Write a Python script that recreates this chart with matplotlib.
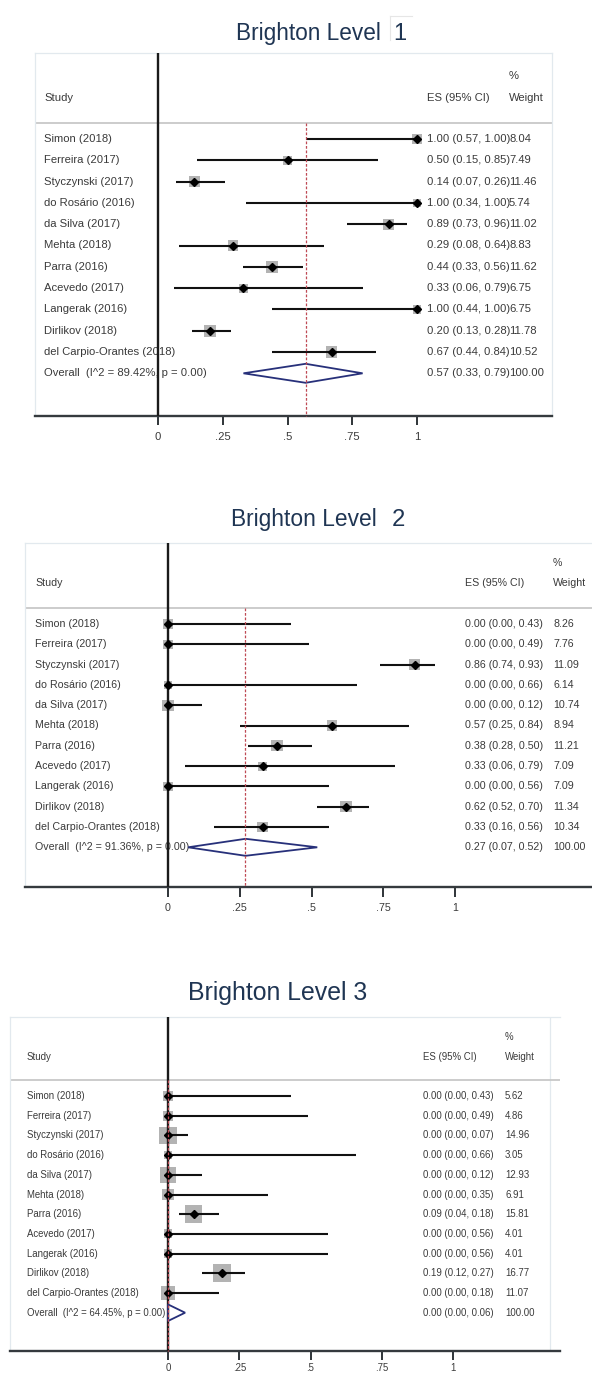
import matplotlib
matplotlib.use('Agg')
import matplotlib.pyplot as plt
from matplotlib.patches import Polygon
from matplotlib.lines import Line2D
import numpy as np

plt.rcParams['font.family'] = ['Liberation Sans', 'DejaVu Sans']

# ---------------- data ----------------
studies = ["Simon (2018)", "Ferreira (2017)", "Styczynski (2017)", "do Rosário (2016)",
           "da Silva (2017)", "Mehta (2018)", "Parra (2016)", "Acevedo (2017)",
           "Langerak (2016)", "Dirlikov (2018)", "del Carpio-Orantes (2018)"]

titles = ["Brighton Level", "Brighton Level", "Brighton Level 3"]
title_nums = ["1", "2", ""]

l1_es = [1.00, 0.50, 0.14, 1.00, 0.89, 0.29, 0.44, 0.33, 1.00, 0.20, 0.67]
l1_lo = [0.57, 0.15, 0.07, 0.34, 0.73, 0.08, 0.33, 0.06, 0.44, 0.13, 0.44]
l1_hi = [1.00, 0.85, 0.26, 1.00, 0.96, 0.64, 0.56, 0.79, 1.00, 0.28, 0.84]
l1_wt = [8.04, 7.49, 11.46, 5.74, 11.02, 8.83, 11.62, 6.75, 6.75, 11.78, 10.52]

l2_es = [0.00, 0.00, 0.86, 0.00, 0.00, 0.57, 0.38, 0.33, 0.00, 0.62, 0.33]
l2_lo = [0.00, 0.00, 0.74, 0.00, 0.00, 0.25, 0.28, 0.06, 0.00, 0.52, 0.16]
l2_hi = [0.43, 0.49, 0.93, 0.66, 0.12, 0.84, 0.50, 0.79, 0.56, 0.70, 0.56]
l2_wt = [8.26, 7.76, 11.09, 6.14, 10.74, 8.94, 11.21, 7.09, 7.09, 11.34, 10.34]

l3_es = [0.00, 0.00, 0.00, 0.00, 0.00, 0.00, 0.09, 0.00, 0.00, 0.19, 0.00]
l3_lo = [0.00, 0.00, 0.00, 0.00, 0.00, 0.00, 0.04, 0.00, 0.00, 0.12, 0.00]
l3_hi = [0.43, 0.49, 0.07, 0.66, 0.12, 0.35, 0.18, 0.56, 0.56, 0.27, 0.18]
l3_wt = [5.62, 4.86, 14.96, 3.05, 12.93, 6.91, 15.81, 4.01, 4.01, 16.77, 11.07]

overall_es = [0.57, 0.27, 0.00]
overall_lo = [0.33, 0.07, 0.00]
overall_hi = [0.79, 0.52, 0.06]
overall_wt = [100.00, 100.00, 100.00]
overall_i2 = [89.42, 91.36, 64.45]
overall_p = [0.00, 0.00, 0.00]

tick_vals = [0, 0.25, 0.5, 0.75, 1]
tick_labels = ['0', '.25', '.5', '.75', '1']

# ---------------- layout (pixels) ----------------
W, H = 592, 1375
layouts = [
    dict(L=35, R=552, T=53, B=416, x0=158, x1=417, r0=139, d=21.3, sep=123,
         hdr_y=98, pct_y=76, study_x=44.5, es_x=427, w_x=509,
         title_x=236, title_base=40, title_fs=16.3, num_x=393, fs=8.1, k=3.4,
         dia_h=9.5, tick_len=9, tick_pad=5.0, box_right=None),
    dict(L=24.5, R=605, T=543, B=887, x0=168, x1=455, r0=624, d=20.3, sep=608,
         hdr_y=583, pct_y=563, study_x=35, es_x=465, w_x=553,
         title_x=231, title_base=526, title_fs=16.4, num_x=392, fs=7.7, k=3.4,
         dia_h=8.5, tick_len=10, tick_pad=4.6, box_right=None),
    dict(L=9.5, R=560, T=1017, B=1351, x0=168, x1=453, r0=1096, d=19.7, sep=1080,
         hdr_y=1057, pct_y=1037, study_x=27, es_x=423, w_x=505,
         title_x=188, title_base=1000, title_fs=17.9, num_x=None, fs=6.9, k=4.4,
         dia_h=8.3, tick_len=9, tick_pad=2.2, box_right=550),
]

TXT = '#3a3a3a'
TITLE_C = '#1f3553'
FAINT = '#e2e9ee'

fig = plt.figure(figsize=(W / 100, H / 100), dpi=100)

panels = [
    (l1_es, l1_lo, l1_hi, l1_wt),
    (l2_es, l2_lo, l2_hi, l2_wt),
    (l3_es, l3_lo, l3_hi, l3_wt),
]

for p, (es, lo, hi, wt) in enumerate(panels):
    lay = layouts[p]
    sc = lay['x1'] - lay['x0']
    px2x = lambda px, lay=lay, sc=sc: (px - lay['x0']) / sc
    py2y = lambda py, lay=lay: (py - lay['r0']) / lay['d']

    ax = fig.add_axes([lay['L'] / W, 1 - lay['B'] / H,
                       (lay['R'] - lay['L']) / W, (lay['B'] - lay['T']) / H])
    ax.set_xlim(px2x(lay['L']), px2x(lay['R']))
    ax.set_ylim(py2y(lay['B']), py2y(lay['T']))
    ax.set_yticks([])
    ax.set_xticks(tick_vals)
    ax.set_xticklabels(tick_labels)
    ax.tick_params(axis='x', length=lay['tick_len'] * 0.72, width=1.4,
                   color='#2f3438', pad=lay['tick_pad'], labelsize=lay['fs'],
                   labelcolor=TXT)
    for s in ['top', 'left', 'right']:
        ax.spines[s].set_color(FAINT)
        ax.spines[s].set_linewidth(0.9)
    if lay['box_right'] is not None:
        ax.spines['right'].set_visible(False)
        ax.axvline(px2x(lay['box_right']), color=FAINT, lw=0.9, zorder=0)
    ax.spines['bottom'].set_color('#353a3e')
    ax.spines['bottom'].set_linewidth(1.7)

    rows = np.arange(len(studies))
    n_ov = len(studies)
    bottom_y = py2y(lay['B'])
    sep_y = py2y(lay['sep'])

    # header separator
    ax.axhline(sep_y, color='#c8c8c8', lw=1.3, zorder=1)
    # null line
    ax.axvline(0, color='#1a1a1a', lw=1.7, zorder=3)

    # weight squares
    sizes = [(lay['k'] * np.sqrt(w) * 0.72) ** 2 for w in wt]
    ax.scatter(es, rows, s=sizes, marker='s', color='#b3b3b3', zorder=2,
               linewidths=0)
    # CI lines
    ax.hlines(rows, lo, hi, color='#111111', lw=1.5, zorder=4)
    # point estimates
    ax.plot(es, rows, linestyle='none', marker='D', markersize=4.4,
            color='#000000', zorder=5)

    # overall diamond
    h = lay['dia_h'] / lay['d']
    o_es, o_lo, o_hi = overall_es[p], overall_lo[p], overall_hi[p]
    dia = Polygon([[o_lo, n_ov], [o_es, n_ov - h], [o_hi, n_ov], [o_es, n_ov + h]],
                  closed=True, facecolor='none', edgecolor='#27307a', lw=1.3,
                  zorder=6)
    ax.add_patch(dia)

    # overall dashed line
    ax.plot([o_es, o_es], [sep_y, bottom_y], color='#bf4a55', lw=0.9,
            dashes=(2.2, 1.4), zorder=7, clip_on=False)

    # texts
    fs = lay['fs']
    sx, ex, wx = px2x(lay['study_x']), px2x(lay['es_x']), px2x(lay['w_x'])
    hy, py_ = py2y(lay['hdr_y']), py2y(lay['pct_y'])
    ax.text(sx, hy, "Study", fontsize=fs, color=TXT, va='center', ha='left')
    ax.text(ex, hy, "ES (95% CI)", fontsize=fs, color=TXT, va='center', ha='left')
    ax.text(wx, hy, "Weight", fontsize=fs, color=TXT, va='center', ha='left')
    ax.text(wx, py_, "%", fontsize=fs, color=TXT, va='center', ha='left')

    for i, name in enumerate(studies):
        ax.text(sx, i, name, fontsize=fs, color=TXT, va='center', ha='left', zorder=1)
        ax.text(ex, i, f"{es[i]:.2f} ({lo[i]:.2f}, {hi[i]:.2f})", fontsize=fs,
                color=TXT, va='center', ha='left')
        ax.text(wx, i, f"{wt[i]:.2f}", fontsize=fs, color=TXT, va='center', ha='left')
    ax.text(sx, n_ov, f"Overall  (I^2 = {overall_i2[p]:.2f}%, p = {overall_p[p]:.2f})",
            fontsize=fs, color=TXT, va='center', ha='left', zorder=1)
    ax.text(ex, n_ov, f"{o_es:.2f} ({o_lo:.2f}, {o_hi:.2f})", fontsize=fs,
            color=TXT, va='center', ha='left')
    ax.text(wx, n_ov, f"{overall_wt[p]:.2f}", fontsize=fs, color=TXT,
            va='center', ha='left')

    # title
    fig.text(lay['title_x'] / W, 1 - lay['title_base'] / H, titles[p],
             fontsize=lay['title_fs'], color=TITLE_C, ha='left', va='baseline')
    if title_nums[p]:
        fig.text(lay['num_x'] / W, 1 - lay['title_base'] / H, title_nums[p],
                 fontsize=lay['title_fs'] * 1.05, color=TITLE_C, ha='left',
                 va='baseline')

# faint text-box artifact next to the "1" in the first title
fig.add_artist(Line2D([390 / W, 390 / W], [1 - 16 / H, 1 - 40 / H],
                      color='#e6e6e6', lw=0.8))
fig.add_artist(Line2D([390 / W, 412 / W], [1 - 16 / H, 1 - 16 / H],
                      color='#e6e6e6', lw=0.8))

fig.savefig('out.png', dpi=100, facecolor='white')
